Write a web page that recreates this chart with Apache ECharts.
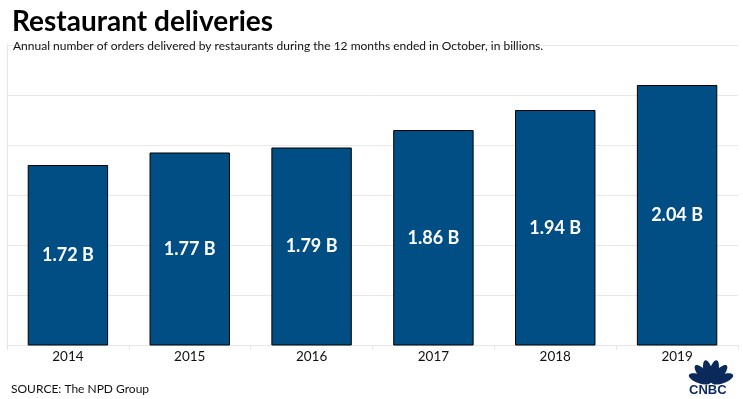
<!DOCTYPE html>
<html>
<head>
<meta charset="utf-8">
<script src="https://cdn.jsdelivr.net/npm/echarts@6/dist/echarts.min.js"></script>
<style>
  html, body { margin: 0; padding: 0; background: #fff; }
  #chart { width: 743px; height: 399px; }
</style>
</head>
<body>
<div id="chart"></div>
<script>
// data
var years = ['2014', '2015', '2016', '2017', '2018', '2019']
var orders = [1.72, 1.77, 1.79, 1.86, 1.94, 2.04]
var yMin = 1.0
var yMax = 2.2
var yStep = 0.2

var chart = echarts.init(document.getElementById('chart'))

// rough CNBC peacock: six feathers fanned above the wordmark
var feathers = []
var angles = [-70, -42, -14, 14, 42, 70]
angles.forEach(function (a) {
  feathers.push({
    type: 'ellipse',
    x: 711,
    y: 383,
    rotation: -a * Math.PI / 180,
    shape: { cx: 0, cy: -12, rx: 4.4, ry: 11.5 },
    style: { fill: '#0b2a5b' }
  })
})

var option = {
  animation: false,
  backgroundColor: '#fff',
  textStyle: { fontFamily: 'Lato, "Open Sans", sans-serif' },
  title: [
    {
      text: 'Restaurant deliveries',
      left: 7,
      top: 3,
      textStyle: { fontFamily: 'Lato', fontWeight: 'bold', fontSize: 28, color: '#000' }
    },
    {
      text: 'Annual number of orders delivered by restaurants during the 12 months ended in October, in billions.',
      left: 8,
      top: 35,
      textStyle: { fontFamily: 'Lato', fontWeight: 'normal', fontSize: 12, color: '#111' }
    },
    {
      text: 'SOURCE: The NPD Group',
      left: 6,
      top: 378,
      textStyle: { fontFamily: 'Lato', fontWeight: 'normal', fontSize: 12, color: '#111' }
    }
  ],
  grid: { left: 7, right: 5, top: 45, bottom: 54 },
  xAxis: {
    type: 'category',
    data: years,
    axisLine: { show: true, lineStyle: { color: '#e6e6e6' } },
    axisTick: { show: true, length: 5, lineStyle: { color: '#e6e6e6' } },
    axisLabel: { color: '#111', fontSize: 13.5, margin: 5, fontFamily: 'Lato' }
  },
  yAxis: {
    type: 'value',
    min: yMin,
    max: yMax,
    interval: yStep,
    axisLine: { show: true, lineStyle: { color: '#e6e6e6' } },
    axisTick: { show: false },
    axisLabel: { show: false },
    splitLine: { show: true, lineStyle: { color: '#e8e8e8' } }
  },
  series: [
    {
      type: 'bar',
      data: orders,
      barWidth: '66%',
      itemStyle: { color: '#004e84', borderColor: '#000', borderWidth: 1 },
      label: {
        show: true,
        position: 'inside',
        color: '#fff',
        fontWeight: 'bold',
        fontSize: 18,
        fontFamily: 'Lato',
        formatter: function (p) { return p.value.toFixed(2) + ' B' }
      }
    }
  ],
  graphic: feathers.concat([
    {
      type: 'text',
      left: 689,
      top: 384,
      style: { text: 'CNBC', fill: '#0b2a5b', font: 'bold 13px "Liberation Sans", Arial, sans-serif' }
    }
  ])
}

chart.setOption(option)
window.addEventListener('resize', function () { chart.resize() })
</script>
</body>
</html>
